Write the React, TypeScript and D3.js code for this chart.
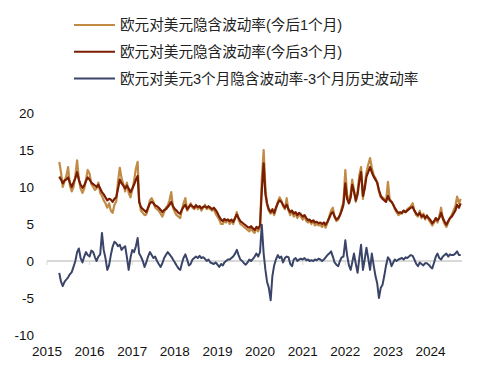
import React from 'react';
import * as d3 from 'd3';

// half-monthly readings, 2015-04-16 .. 2024-09-16
const vol1m = [
  13.4, 12.0, 10.0, 10.8, 11.5, 12.7, 10.2, 9.4, 10.0, 11.5, 13.6, 11.0, 9.8, 9.2, 9.8, 11.0, 12.3,
  11.8, 10.4, 10.0, 9.6, 9.8, 10.6, 9.2, 8.8, 8.2, 7.8, 7.2, 7.8, 6.8, 6.5, 7.6, 8.0, 10.8, 12.6, 11.2, 10.4, 9.4, 10.6, 9.2, 8.6,
  9.6, 10.8, 12.5, 13.4, 8.2, 6.8, 6.5, 6.2, 6.3, 7.0, 8.2, 8.5, 8.0, 7.2, 7.0, 6.8, 6.4, 6.0, 6.6, 7.2, 7.5, 8.2, 9.3, 7.2,
  6.6, 6.2, 6.0, 5.8, 6.8, 7.8, 8.5, 6.8, 7.2, 7.8, 7.2, 7.0, 7.6, 7.0, 7.4, 6.8, 7.2, 7.6, 7.0, 7.2, 7.0, 6.8, 7.0, 6.4,
  6.0, 5.6, 5.0, 5.0, 5.4, 5.2, 5.6, 5.0, 5.4, 5.0, 5.8, 6.6, 5.6, 5.0, 4.8, 4.6, 4.4, 4.2, 4.0, 4.4, 4.0, 3.8, 4.4, 4.0,
  4.6, 11.0, 15.0, 9.8, 7.6, 6.8, 6.4, 6.8, 6.2, 7.0, 8.0, 8.6, 8.2, 7.4, 7.0, 8.5, 6.8, 6.2, 6.8, 6.0, 6.4, 5.8, 6.4, 6.0,
  5.6, 6.0, 5.4, 5.2, 5.4, 5.0, 5.4, 4.8, 5.0, 4.8, 4.9, 4.6, 5.0, 4.5, 5.2, 6.0, 6.8, 7.2, 6.0, 5.4, 5.6, 6.2, 7.2, 8.0,
  12.3, 9.0, 7.8, 9.2, 11.0, 9.6, 8.0, 9.4, 11.6, 12.7, 8.4, 10.2, 12.0, 13.0, 13.9, 12.6, 11.6, 11.2, 10.6, 9.4, 8.6, 8.6, 8.4, 8.0,
  10.7, 8.4, 8.0, 7.6, 7.0, 6.6, 6.2, 6.4, 6.4, 6.8, 6.6, 7.0, 7.2, 7.4, 7.8, 6.8, 6.2, 6.0, 6.8, 5.8, 6.4, 5.6, 6.2, 5.6,
  5.2, 4.8, 5.2, 5.8, 5.2, 6.0, 7.2, 5.6, 5.0, 4.6, 5.2, 5.8, 6.2, 6.8, 7.4, 8.7, 7.8, 8.4,
];

const vol3m = [
  11.4, 11.0, 10.5, 10.9, 11.0, 11.3, 10.6, 10.0, 10.6, 11.2, 12.0, 11.0, 10.3, 9.9, 10.2, 10.8, 11.3,
  11.0, 10.6, 10.4, 10.2, 10.0, 10.3, 9.8, 9.3, 9.0, 8.6, 8.2, 8.4, 8.3, 8.0, 8.4, 8.6, 9.8, 11.0, 10.5, 10.2, 9.8, 10.2, 9.8, 9.3,
  9.8, 10.3, 11.0, 11.5, 8.0, 7.3, 7.0, 6.8, 6.6, 7.2, 7.8, 8.0, 7.8, 7.5, 7.4, 7.2, 6.9, 6.6, 6.9, 7.0, 7.3, 7.6, 8.0, 7.4,
  7.0, 6.8, 6.5, 6.4, 6.9, 7.3, 7.6, 7.0, 7.3, 7.6, 7.4, 7.2, 7.5, 7.3, 7.4, 7.1, 7.3, 7.4, 7.2, 7.4, 7.2, 7.0, 7.2, 6.9,
  6.5, 6.0, 5.6, 5.4, 5.7, 5.5, 5.6, 5.4, 5.6, 5.3, 5.8, 6.3, 5.8, 5.4, 5.2, 5.0, 4.8, 4.6, 4.5, 4.7, 4.4, 4.2, 4.6, 4.4,
  4.8, 9.5, 13.2, 9.0, 7.8, 7.0, 6.6, 7.0, 6.5, 7.2, 7.8, 8.2, 8.0, 7.6, 7.2, 7.6, 7.0, 6.6, 6.8, 6.4, 6.6, 6.2, 6.5, 6.3,
  6.0, 6.2, 5.8, 5.5, 5.6, 5.3, 5.5, 5.2, 5.3, 5.1, 5.2, 5.0, 5.2, 4.9, 5.3, 5.8, 6.4, 6.6, 6.0, 5.6, 5.8, 6.2, 6.8, 7.6,
  10.5, 8.4, 7.8, 8.6, 10.3, 9.4, 8.2, 9.0, 10.8, 12.0, 8.8, 9.8, 11.4, 12.0, 12.7, 12.0, 11.4, 11.0, 10.6, 9.6, 8.8, 8.4, 8.2, 8.0,
  8.8, 8.2, 8.0, 7.6, 7.2, 6.8, 6.5, 6.6, 6.5, 6.8, 6.6, 6.8, 7.0, 7.2, 7.3, 6.8, 6.4, 6.2, 6.5, 6.0, 6.2, 5.8, 6.1, 5.8,
  5.5, 5.1, 5.4, 5.8, 5.5, 5.8, 6.5, 5.8, 5.3, 4.9, 5.4, 5.8, 6.0, 6.4, 6.8, 7.6, 7.2, 7.8,
];

const spread3m = [
  -1.6, -2.8, -3.4, -2.8, -2.5, -2.2, -1.8, -1.5, -0.8, 0.0, 1.2, 1.7, 0.4, -0.2, 0.6, 1.2, 0.8,
  0.6, 1.4, 1.2, 0.5, 0.0, 0.6, 0.9, 3.8, 1.5, 0.4, -1.2, -0.6, 0.8, 1.9, 2.6, 2.4, 2.0, 2.2, 1.5, 1.8, 2.0, 0.5, -1.2, 0.4,
  1.5, 1.2, 2.0, 3.1, 1.0, 0.6, 0.0, -0.8, -0.2, 0.6, 1.2, 0.8, 0.4, 0.6, 0.0, -0.4, -0.8, -0.3, 0.4, 0.8, 1.2, 0.9, 0.6, 0.2,
  -0.2, -0.6, -1.0, -1.2, -0.4, 0.4, 0.9, 0.2, -0.6, -0.4, 0.2, 0.4, 0.6, 0.4, 0.7, 0.4, 0.5, 0.3, 0.0, 0.2, -0.2, -0.3, -0.4, -0.2,
  -0.5, -0.8, -0.4, -0.6, -0.2, 0.0, 0.2, 0.2, 0.4, 0.6, 1.0, 1.5, 0.8, 0.2, 0.0, -0.3, -0.5, -0.2, 0.2, 0.0, 0.3, 0.6, 1.0, 0.6,
  1.2, 4.9, 1.0, -1.2, -2.8, -3.6, -5.3, -2.0, -0.6, 0.2, 0.8, 0.4, 0.6, -0.2, 0.4, 0.6, 0.5, -0.4, -0.7, 0.2, 0.4, 0.0, 0.2, 0.3,
  0.2, 0.4, 0.1, 0.2, 0.0, 0.1, 0.0, 0.2, 0.1, 0.3, 0.2, 0.0, 0.2, 0.5, 0.8, 1.0, 1.3, 0.6, -0.2, -0.5, -0.7, 0.0, 0.5, 0.6,
  2.8, 0.8, -0.6, -1.2, -0.2, 1.0, -0.4, -1.6, 0.4, 2.2, -1.2, 0.2, 1.8, 0.4, -1.2, 1.0, -0.6, -2.0, -3.0, -5.0, -3.6, -3.2, -2.0, -0.6,
  0.5, 0.2, -0.7, -0.2, 0.2, 0.0, 0.2, 0.3, 0.4, 0.2, 0.5, 0.4, 0.6, 0.8, 0.7, 0.2, -0.4, -0.7, -0.2, -0.4, -0.6, -0.3, -0.3, -0.5,
  -0.8, -1.0, -0.2, 0.6, 1.0, 0.4, 0.2, 0.6, 0.8, 1.0, 0.6, 0.9, 0.8, 0.8, 1.0, 1.3, 0.8, 0.8,
];

const dates = d3
  .timeMonth.range(new Date(2015, 3, 1), new Date(2024, 9, 1))
  .flatMap(m => [m, d3.timeDay.offset(m, 15)])
  .slice(1);

const yTicks = [20, 15, 10, 5, 0, -5, -10];
const yearTicks = d3.timeYear.range(new Date(2015, 0, 1), new Date(2025, 0, 1));

const series = [
  { name: '欧元对美元隐含波动率(今后1个月)', values: vol1m, color: '#C18A45', w: 2.2 },
  { name: '欧元对美元隐含波动率(今后3个月)', values: vol3m, color: '#7A1E02', w: 2.2 },
  { name: '欧元对美元3个月隐含波动率-3个月历史波动率', values: spread3m, color: '#3A4468', w: 2 },
];

const font = '"Liberation Sans", Arial, "Noto Sans CJK SC", sans-serif';

export default function App() {
  const width = 485;
  const height = 375;

  const x = d3.scaleTime()
    .domain([new Date(2015, 0, 1), new Date(2024, 8, 27)])
    .range([47, 462]);
  const y = d3.scaleLinear().domain([-10, 20]).range([335, 113]);

  const line = (vals: number[]) =>
    d3.line<number>()
      .x((_, i) => x(dates[i]))
      .y(d => y(d))(vals) || '';

  return (
    <svg width={width} height={height} style={{ position: 'absolute', left: 0, top: 0, background: '#fff' }}
      fontFamily={font}>
      {/* legend */}
      {series.map((s, i) => (
        <g key={s.name} transform={`translate(0, ${25 + i * 26.7})`}>
          <line x1={74} x2={115} stroke={s.color} strokeWidth={2} />
          <text x={120} dy="0.36em" fontSize={14.6} fill="#222">{s.name}</text>
        </g>
      ))}

      {/* y tick labels */}
      {yTicks.map(t => (
        <text key={t} x={34} y={y(t)} dy="0.36em" textAnchor="end" fontSize={13.5} fill="#111">{t}</text>
      ))}

      {/* zero axis */}
      <line x1={x.range()[0]} x2={x.range()[1]} y1={y(0)} y2={y(0)} stroke="#D9D9D9" strokeWidth={2} />
      {yearTicks.map(t => (
        <line key={+t} x1={x(t)} x2={x(t)} y1={y(0)} y2={y(0) + 4} stroke="#D9D9D9" strokeWidth={1} />
      ))}

      {/* x labels */}
      {yearTicks.map(t => (
        <text key={+t} x={x(t)} y={351} dy="0.36em" textAnchor="middle" fontSize={13.5} fill="#111">
          {d3.timeFormat('%Y')(t)}
        </text>
      ))}

      {series.map(s => (
        <path key={s.name} d={line(s.values)} fill="none" stroke={s.color} strokeWidth={s.w}
          strokeLinejoin="round" />
      ))}
    </svg>
  );
}
